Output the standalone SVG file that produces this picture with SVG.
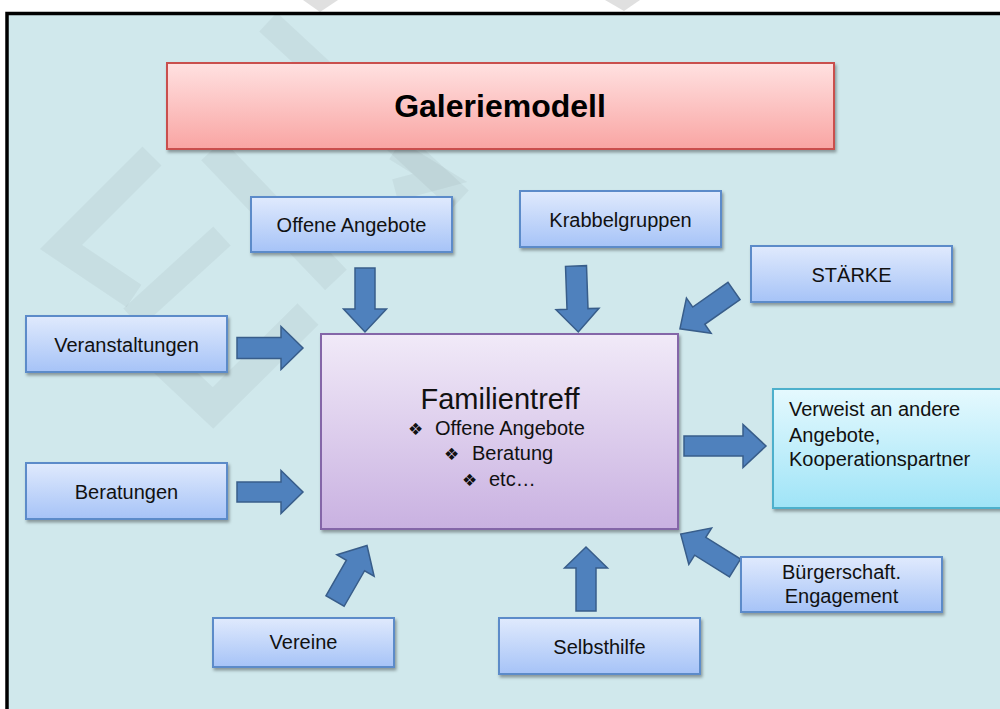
<svg xmlns="http://www.w3.org/2000/svg" width="1000" height="709" viewBox="0 0 1000 709">
<defs>
  <linearGradient id="gBlue" x1="0" y1="0" x2="0" y2="1">
    <stop offset="0" stop-color="#e0eafd"/>
    <stop offset="1" stop-color="#a6c3f7"/>
  </linearGradient>
  <linearGradient id="gRed" x1="0" y1="0" x2="0" y2="1">
    <stop offset="0" stop-color="#ffe1e1"/>
    <stop offset="1" stop-color="#f9a5a3"/>
  </linearGradient>
  <linearGradient id="gPurple" x1="0" y1="0" x2="0" y2="1">
    <stop offset="0" stop-color="#f1eaf8"/>
    <stop offset="1" stop-color="#c9b1e1"/>
  </linearGradient>
  <linearGradient id="gCyan" x1="0" y1="0" x2="0" y2="1">
    <stop offset="0" stop-color="#e5f9fe"/>
    <stop offset="1" stop-color="#9fe4f7"/>
  </linearGradient>
  <filter id="shadow" x="-10%" y="-10%" width="130%" height="140%">
    <feDropShadow dx="1.5" dy="2.5" stdDeviation="1.5" flood-color="#000" flood-opacity="0.35"/>
  </filter>
</defs>
<style>
  .box { fill: url(#gBlue); stroke: #5b8bc9; stroke-width: 2; filter: url(#shadow); }
  .lbl { font-family: "Liberation Sans", Arial, sans-serif; font-size: 20px; fill: #111; text-anchor: middle; }
  .arrow { fill: #4f81bd; stroke: #385d8a; stroke-width: 1.5; stroke-linejoin: miter; }
  .wm { fill: none; stroke: #000; stroke-opacity: 0.04; stroke-linejoin: miter; }
</style>

<rect x="0" y="0" width="1000" height="709" fill="#ffffff"/>
<!-- watermark pieces above the frame -->
<polygon points="303,0 338,0 320,12" fill="#e0e0e0"/>
<polygon points="605,0 640,0 624,11" fill="#e0e0e0"/>

<!-- frame -->
<rect x="7" y="13.5" width="1200" height="800" fill="#d0e8ec" stroke="#000" stroke-width="3.5"/>

<!-- faint watermark -->
<g id="watermark">
  <polyline class="wm" points="152,156 61,247 134,296" stroke-width="27"/>
  <line class="wm" x1="222" y1="236" x2="132" y2="318" stroke-width="26"/>
  <polyline class="wm" points="160,358 213,408 308,314" stroke-width="30"/>
  <line class="wm" x1="268" y1="22" x2="460" y2="200" stroke-width="26"/>
  <line class="wm" x1="212" y1="150" x2="336" y2="280" stroke-width="30"/>
  <polyline class="wm" points="395,150 440,178 395,190" stroke-width="22"/>
</g>

<g id="connectors">
  <path class="arrow" transform="translate(365,268) rotate(90)" d="M0,-10 H41 V-21.5 L64,0 L41,21.5 V10 H0 Z"/>
  <path class="arrow" transform="translate(576,266) rotate(88)" d="M0,-10.5 H43 V-21.5 L66,0 L43,21.5 V10.5 H0 Z"/>
  <path class="arrow" transform="translate(734,291) rotate(145)" d="M0,-10.5 H43 V-21.5 L66,0 L43,21.5 V10.5 H0 Z"/>
  <path class="arrow" transform="translate(237,348)" d="M0,-10.5 H44 V-21.5 L66,0 L44,21.5 V10.5 H0 Z"/>
  <path class="arrow" transform="translate(237,492)" d="M0,-10 H44 V-21.5 L66,0 L44,21.5 V10 H0 Z"/>
  <path class="arrow" transform="translate(684,446)" d="M0,-10 H59 V-21.5 L82,0 L59,21.5 V10 H0 Z"/>
  <path class="arrow" transform="translate(335,601) rotate(-60)" d="M0,-10.5 H41 V-21.5 L64,0 L41,21.5 V10.5 H0 Z"/>
  <path class="arrow" transform="translate(586,611) rotate(-90)" d="M0,-10 H43 V-21.5 L64,0 L43,21.5 V10 H0 Z"/>
  <path class="arrow" transform="translate(735,568) rotate(-148)" d="M0,-10.5 H41 V-21.5 L64,0 L41,21.5 V10.5 H0 Z"/>
</g>

<g id="galeriemodell">
  <rect x="167" y="63" width="667" height="86" fill="url(#gRed)" stroke="#c9504d" stroke-width="2" filter="url(#shadow)"/>
  <text x="500" y="117" font-family="'Liberation Sans', Arial, sans-serif" font-size="32" font-weight="bold" fill="#000" text-anchor="middle">Galeriemodell</text>
</g>

<g id="offene-angebote">
  <rect class="box" x="251" y="197" width="201" height="55"/>
  <text class="lbl" x="351.5" y="232">Offene Angebote</text>
</g>

<g id="krabbelgruppen">
  <rect class="box" x="520" y="191" width="201" height="56"/>
  <text class="lbl" x="620.5" y="227">Krabbelgruppen</text>
</g>

<g id="staerke">
  <rect class="box" x="751" y="246" width="201" height="56"/>
  <text class="lbl" x="851.5" y="282">STÄRKE</text>
</g>

<g id="veranstaltungen">
  <rect class="box" x="26" y="316" width="201" height="56"/>
  <text class="lbl" x="126.5" y="352">Veranstaltungen</text>
</g>

<g id="beratungen">
  <rect class="box" x="26" y="463" width="201" height="56"/>
  <text class="lbl" x="126.5" y="499">Beratungen</text>
</g>

<g id="familientreff">
  <rect x="321" y="334" width="357" height="195" fill="url(#gPurple)" stroke="#8466a8" stroke-width="2" filter="url(#shadow)"/>
  <text x="500" y="409" font-family="'Liberation Sans', Arial, sans-serif" font-size="29" fill="#111" text-anchor="middle">Familientreff</text>
  <g font-family="'Liberation Sans', Arial, 'DejaVu Sans', sans-serif" font-size="20" fill="#111">
    <text x="408" y="435" font-family="'DejaVu Sans', sans-serif" font-size="17">❖</text>
    <text x="435" y="435">Offene Angebote</text>
    <text x="444" y="460" font-family="'DejaVu Sans', sans-serif" font-size="17">❖</text>
    <text x="472" y="460">Beratung</text>
    <text x="462" y="486" font-family="'DejaVu Sans', sans-serif" font-size="17">❖</text>
    <text x="489" y="486">etc…</text>
  </g>
</g>

<g id="verweist">
  <rect x="773" y="389" width="240" height="119" fill="url(#gCyan)" stroke="#4eb0cc" stroke-width="2" filter="url(#shadow)"/>
  <g font-family="'Liberation Sans', Arial, sans-serif" font-size="20" fill="#111">
    <text x="789" y="416">Verweist an andere</text>
    <text x="789" y="442">Angebote,</text>
    <text x="789" y="466">Kooperationspartner</text>
  </g>
</g>

<g id="buergerschaft">
  <rect class="box" x="741" y="557" width="201" height="55"/>
  <text class="lbl" x="841.5" y="579">Bürgerschaft.</text>
  <text class="lbl" x="841.5" y="603">Engagement</text>
</g>

<g id="vereine">
  <rect class="box" x="213" y="618" width="181" height="49"/>
  <text class="lbl" x="303.5" y="649">Vereine</text>
</g>

<g id="selbsthilfe">
  <rect class="box" x="499" y="618" width="201" height="56"/>
  <text class="lbl" x="599.5" y="654">Selbsthilfe</text>
</g>
</svg>
